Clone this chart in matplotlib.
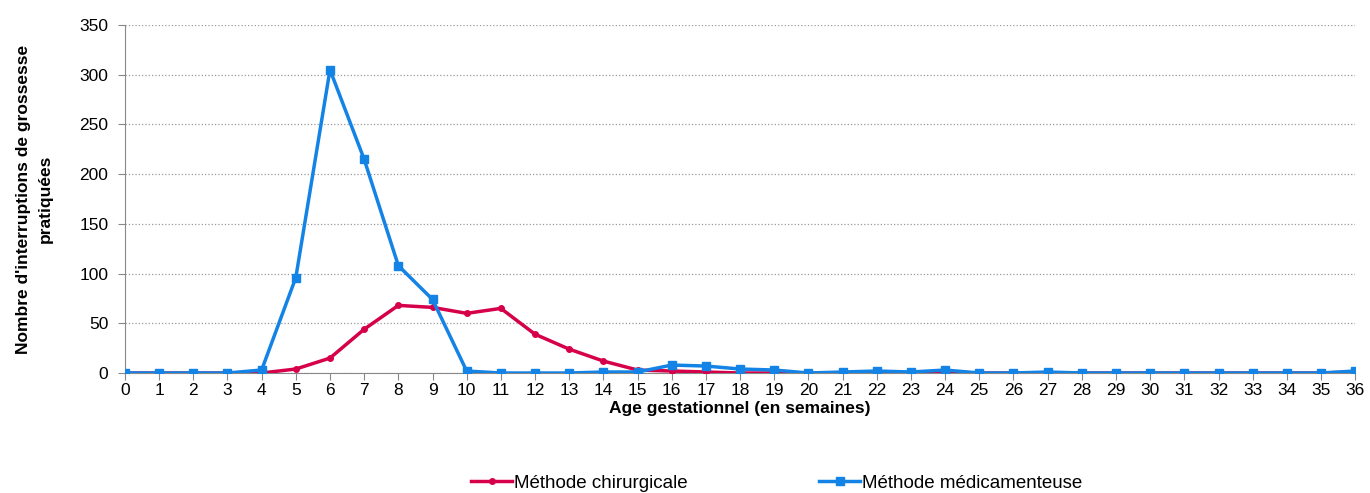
import numpy as np
import matplotlib.pyplot as plt

plt.rcParams['font.family'] = ['Liberation Sans', 'DejaVu Sans']

semaines = list(range(0, 37))
chirurgicale = [0, 0, 0, 0, 0, 4, 15, 44, 68, 66, 60, 65, 39, 24, 12, 3, 2, 1, 0, 0,
                0, 0, 0, 0, 1, 0, 0, 0, 0, 0, 0, 0, 0, 0, 0, 0, 1]
medicamenteuse = [0, 0, 0, 0, 3, 96, 305, 215, 108, 74, 2, 0, 0, 0, 1, 1, 8, 7, 4, 3,
                  0, 1, 2, 1, 3, 0, 0, 1, 0, 0, 0, 0, 0, 0, 0, 0, 2]

red = '#D6004A'
blue = '#1483E6'

fig = plt.figure(figsize=(13.7, 4.93), dpi=100)
ax = fig.add_axes([0.0912, 0.2434, 0.898, 0.7058])

ax.plot(semaines, chirurgicale, color=red, lw=2.5, marker='o', markersize=4,
        label='Méthode chirurgicale', zorder=3)
ax.plot(semaines, medicamenteuse, color=blue, lw=2.5, marker='s', markersize=6,
        label='Méthode médicamenteuse', zorder=4)

ax.set_xlim(0, 36)
ax.set_ylim(0, 350)
ax.set_xticks(semaines)
ax.set_yticks(range(0, 351, 50))
ax.tick_params(labelsize=12.5, color='#888888', length=5)
ax.tick_params(axis='x', pad=2)
ax.tick_params(axis='y', pad=7)
ax.grid(axis='y', linestyle=':', color='#999999', lw=0.9)
ax.set_axisbelow(True)
for s in ['top', 'right']:
    ax.spines[s].set_visible(False)
for s in ['left', 'bottom']:
    ax.spines[s].set_color('#888888')

ax.set_xlabel('Age gestationnel (en semaines)', fontsize=12.5, fontweight='bold', labelpad=2)
fig.text(0.025, 0.596, "Nombre d'interruptions de grossesse\npratiquées", fontsize=12.5,
         fontweight='bold', rotation=90, ha='center', va='center',
         multialignment='center', linespacing=1.6)
for t in ax.get_xticklabels() + ax.get_yticklabels():
    t.set_clip_on(False)

fig.legend(*ax.get_legend_handles_labels(), loc='center', bbox_to_anchor=(0.567, 0.02),
           ncol=2, frameon=False, fontsize=13.5, handlelength=2.2, handletextpad=0.1,
           columnspacing=7)

fig.savefig('out.png', dpi=100)
